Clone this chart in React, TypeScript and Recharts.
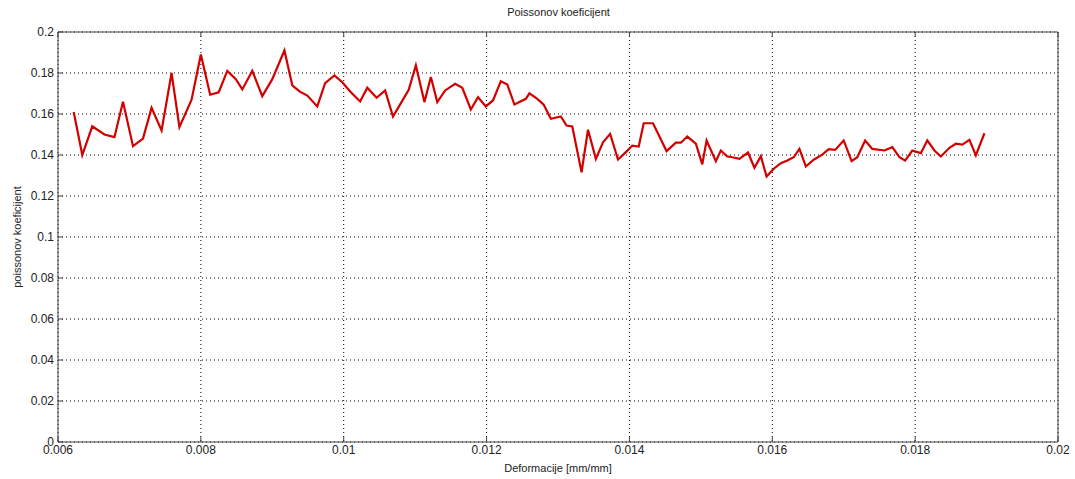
import React from 'react'
import { LineChart, Line, XAxis, YAxis, CartesianGrid } from 'recharts'

// deformation [mm/mm]
const strain = [
  0.00622, 0.00634, 0.00648, 0.00665, 0.00679, 0.00691, 0.00705, 0.00719, 0.00731, 0.00745,
  0.00759, 0.0077, 0.00787, 0.008, 0.00813, 0.00825, 0.00837, 0.00849, 0.00858, 0.00872,
  0.00886, 0.009, 0.00917, 0.00928, 0.00938, 0.00949, 0.00963, 0.00974, 0.00987, 0.00998,
  0.0101, 0.01023, 0.01033, 0.01046, 0.01058, 0.01069, 0.01078, 0.01091, 0.01101, 0.01113,
  0.01122, 0.01131, 0.01142, 0.01156, 0.01166, 0.01178, 0.01188, 0.01199, 0.01209, 0.0122,
  0.01229, 0.01239, 0.01255, 0.0126, 0.01271, 0.0128, 0.0129, 0.01304, 0.01312, 0.0132,
  0.01333, 0.01342, 0.01353, 0.01363, 0.01373, 0.01384, 0.01395, 0.01404, 0.01413, 0.0142,
  0.01433, 0.01452, 0.01465, 0.01472, 0.01481, 0.01493, 0.01502, 0.01508, 0.01521, 0.01528,
  0.01537, 0.01544, 0.01554, 0.01566, 0.01575, 0.01584, 0.01592, 0.01602, 0.01612, 0.01621,
  0.0163, 0.01638, 0.01647, 0.01658, 0.0167, 0.01679, 0.01688, 0.017, 0.01711, 0.01719,
  0.0173, 0.0174, 0.01757, 0.01768, 0.01778, 0.01786, 0.01796, 0.01808, 0.01817, 0.01827,
  0.01836, 0.01848, 0.01857, 0.01866, 0.01876, 0.01885, 0.01897,
]

// poisson coefficient
const poisson = [
  0.161, 0.14, 0.154, 0.15, 0.1487, 0.166, 0.1443, 0.148, 0.163, 0.152,
  0.18, 0.1536, 0.167, 0.189, 0.1694, 0.1706, 0.181, 0.177, 0.172, 0.181,
  0.1687, 0.177, 0.191, 0.174, 0.171, 0.169, 0.1637, 0.175, 0.1788, 0.1755,
  0.1706, 0.1661, 0.1728, 0.1679, 0.1715, 0.1588, 0.1641, 0.1718, 0.1837, 0.1658,
  0.178, 0.1658, 0.1715, 0.1747, 0.1728, 0.1622, 0.1682, 0.1637, 0.1666, 0.176,
  0.1744, 0.1646, 0.1674, 0.1701, 0.1674, 0.1645, 0.1577, 0.1588, 0.1544, 0.1539,
  0.1316, 0.1523, 0.1381, 0.1462, 0.1503, 0.1378, 0.1414, 0.1446, 0.1441, 0.1555,
  0.1555, 0.1419, 0.146, 0.146, 0.149, 0.1455, 0.1354, 0.1471, 0.137, 0.1422,
  0.1393, 0.1389, 0.1381, 0.1412, 0.1338, 0.1394, 0.1295, 0.1333, 0.136, 0.1373,
  0.1389, 0.143, 0.1344, 0.1377, 0.1402, 0.1428, 0.1425, 0.1471, 0.137, 0.1389,
  0.1471, 0.143, 0.1422, 0.1438, 0.1389, 0.1373, 0.1422, 0.1409, 0.1471, 0.1422,
  0.1393, 0.1435, 0.1455, 0.1451, 0.1474, 0.1398, 0.1506,
]

const xTicks = [0.006, 0.008, 0.01, 0.012, 0.014, 0.016, 0.018, 0.02]
const yTicks = [0, 0.02, 0.04, 0.06, 0.08, 0.1, 0.12, 0.14, 0.16, 0.18, 0.2]

const data = strain.map((x, i) => ({ x, y: poisson[i] }))

const fmt = (v: number) => String(Number(v.toFixed(3)))

const tickStyle = { fontSize: 12, fill: '#222', fontFamily: 'Liberation Sans, Arial, sans-serif' }
const axisColor = '#444'
const noLabel = () => <g />

export default function App() {
  return (
    <div style={{ position: 'absolute', left: 0, top: 0, width: 1075, height: 479, background: '#fff' }}>
      <div
        style={{
          position: 'absolute',
          left: 58,
          width: 1001,
          top: 6,
          textAlign: 'center',
          fontSize: 11,
          fontFamily: 'Liberation Sans, Arial, sans-serif',
          color: '#222',
        }}
      >
        Poissonov koeficijent
      </div>
      <LineChart width={1075} height={479} data={data} margin={{ top: 31, right: 16, bottom: 0, left: 0 }}>
        <CartesianGrid xAxisId="b" yAxisId="l" stroke="#000" strokeDasharray="1 3" />
        <XAxis
          xAxisId="b"
          type="number"
          dataKey="x"
          domain={[0.006, 0.02]}
          ticks={xTicks}
          tickFormatter={fmt}
          allowDataOverflow
          height={37}
          stroke={axisColor}
          tickSize={-5}
          tickMargin={8}
          tick={tickStyle}
          label={{ value: 'Deformacije [mm/mm]', position: 'center', dy: 8, style: { ...tickStyle, fontSize: 11 } }}
        />
        <XAxis
          xAxisId="t"
          orientation="top"
          type="number"
          dataKey="x"
          domain={[0.006, 0.02]}
          ticks={xTicks}
          allowDataOverflow
          height={1}
          stroke={axisColor}
          tickSize={-5}
          tick={noLabel}
        />
        <YAxis
          yAxisId="l"
          type="number"
          domain={[0, 0.2]}
          ticks={yTicks}
          tickFormatter={fmt}
          width={58}
          stroke={axisColor}
          tickSize={-5}
          tickMargin={9}
          tick={tickStyle}
          label={{ value: 'poissonov koeficijent', angle: -90, position: 'center', dx: -12, style: { ...tickStyle, fontSize: 11 } }}
        />
        <YAxis
          yAxisId="r"
          orientation="right"
          type="number"
          domain={[0, 0.2]}
          ticks={yTicks}
          width={1}
          stroke={axisColor}
          tickSize={-5}
          tick={noLabel}
        />
        <Line
          xAxisId="b"
          yAxisId="l"
          type="linear"
          dataKey="y"
          stroke="#d40000"
          strokeWidth={2.2}
          dot={false}
          isAnimationActive={false}
        />
      </LineChart>
    </div>
  )
}
